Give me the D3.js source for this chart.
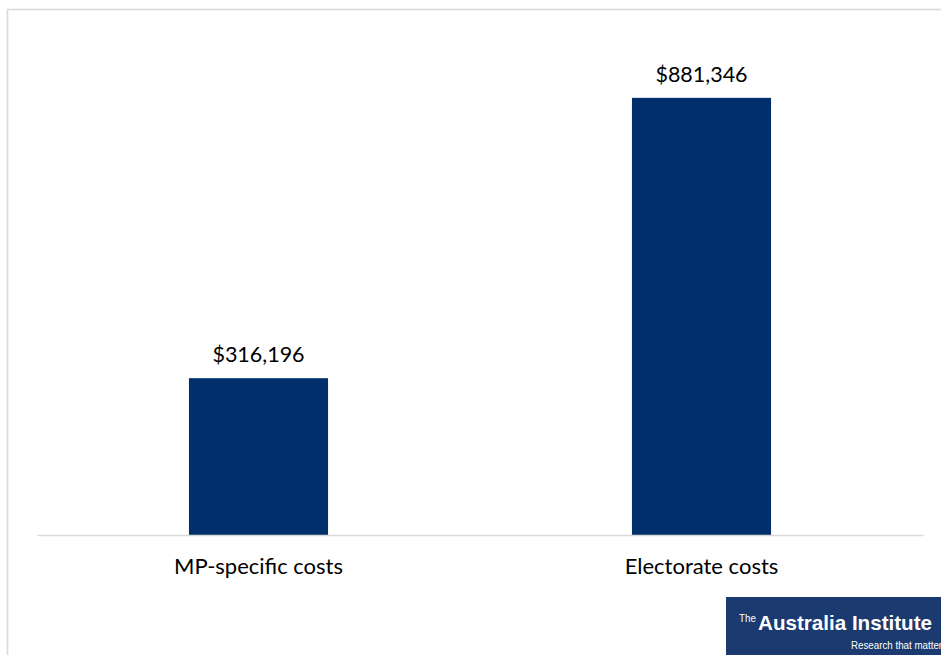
<!DOCTYPE html>
<html>
<head>
<meta charset="utf-8">
<script src="https://cdn.jsdelivr.net/npm/d3@7"></script>
<style>
  html, body { margin: 0; padding: 0; background: #fff; }
  svg { display: block; }
</style>
</head>
<body>
<svg id="chart" width="941" height="655"></svg>
<script>
// Cost categories and their dollar amounts
const categories = ["MP-specific costs", "Electorate costs"];
const values = [316196, 881346];
const valueLabels = ["$316,196", "$881,346"];

const W = 941, H = 655;
const svg = d3.select("#chart");
const font = "Lato, 'Open Sans', sans-serif";

// Chart frame (extends past the right and bottom edges)
svg.append("rect")
  .attr("x", 7.5).attr("y", 9.5)
  .attr("width", 960).attr("height", 680)
  .attr("fill", "none")
  .attr("stroke", "#d9d9d9")
  .attr("stroke-width", 1.6);

const plot = { left: 37, right: 923, top: 39, bottom: 535 };

const x = d3.scaleBand()
  .domain(categories)
  .range([plot.left, plot.right])
  .paddingInner(0)
  .paddingOuter(0);

const y = d3.scaleLinear()
  .domain([0, 1000000])
  .range([plot.bottom, plot.top]);

const barW = x.step() * 0.314;

const data = categories.map((c, i) => ({ cat: c, value: values[i], label: valueLabels[i] }));

// Bars
svg.selectAll("rect.bar")
  .data(data)
  .join("rect")
  .attr("class", "bar")
  .attr("x", d => x(d.cat) + x.bandwidth() / 2 - barW / 2)
  .attr("y", d => y(d.value))
  .attr("width", barW)
  .attr("height", d => y(0) - y(d.value))
  .attr("fill", "#002f6c");

// Value labels above bars
svg.selectAll("text.val")
  .data(data)
  .join("text")
  .attr("class", "val")
  .attr("x", d => x(d.cat) + x.bandwidth() / 2)
  .attr("y", d => y(d.value) - 16)
  .attr("text-anchor", "middle")
  .attr("font-family", font)
  .attr("font-size", 21.5)
  .attr("fill", "#000")
  .text(d => d.label);

// Category axis
const xAxis = svg.append("g")
  .attr("transform", `translate(0,${plot.bottom})`)
  .call(d3.axisBottom(x).tickSize(0).tickPadding(0));
xAxis.select(".domain")
  .attr("stroke", "#d9d9d9")
  .attr("stroke-width", 1.5);
xAxis.selectAll(".tick text")
  .attr("y", 39)
  .attr("dy", 0)
  .attr("font-family", font)
  .attr("font-size", 22)
  .attr("fill", "#000");

// Institute badge in the lower right corner
const logo = svg.append("g");
logo.append("rect")
  .attr("x", 726).attr("y", 597)
  .attr("width", 230).attr("height", 70)
  .attr("fill", "#1b3a6f");
logo.append("text")
  .attr("x", 739).attr("y", 622)
  .attr("font-family", "'Liberation Sans Narrow', 'Liberation Sans', sans-serif")
  .attr("font-size", 11)
  .attr("textLength", 17)
  .attr("lengthAdjust", "spacingAndGlyphs")
  .attr("fill", "#fff")
  .text("The");
logo.append("text")
  .attr("x", 758).attr("y", 630)
  .attr("font-family", "'Liberation Sans Narrow', 'Liberation Sans', sans-serif")
  .attr("font-size", 21)
  .attr("font-weight", 600)
  .attr("textLength", 174)
  .attr("lengthAdjust", "spacingAndGlyphs")
  .attr("fill", "#fff")
  .text("Australia Institute");
logo.append("text")
  .attr("x", 851).attr("y", 649)
  .attr("font-family", "'Liberation Sans Narrow', 'Liberation Sans', sans-serif")
  .attr("font-size", 11)
  .attr("textLength", 96)
  .attr("lengthAdjust", "spacingAndGlyphs")
  .attr("fill", "#fff")
  .text("Research that matters");
</script>
</body>
</html>
